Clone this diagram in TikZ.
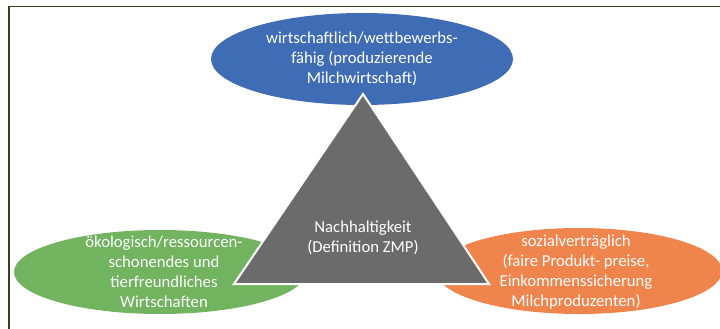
\documentclass[tikz,border=0pt]{standalone}
\usepackage{fontspec}
\setmainfont{Carlito}
\usepackage{tikz}
\usetikzlibrary{shapes,calc,positioning}
\definecolor{pillarblue}{HTML}{3F6DB5}
\definecolor{pillargreen}{HTML}{71B35E}
\definecolor{pillarorange}{HTML}{EF844C}
\definecolor{coregray}{HTML}{6B6B6B}
\definecolor{framecol}{HTML}{3B3A22}
\tikzset{
    pillar/.style = {ellipse, text=white, align=center, inner sep=0pt, minimum width=300pt, minimum height=90pt, font=\fontsize{16.7}{20}\selectfont},
    core/.style = {fill=coregray, draw=white, line width=2pt, line join=miter},
    coretext/.style = {text=white, align=center, font=\fontsize{16.7}{20}\selectfont},
}

\begin{document}
\begin{tikzpicture}[x=1pt, y=-1pt]
    \useasboundingbox (0,0) rectangle (720,329);
    \clip (0,0) rectangle (720,329);
    \draw [framecol, line width=1.5pt] (9,329) -- (9,6.5) -- (720,6.5);
    \node [pillar, fill=pillarblue, minimum width=302pt, minimum height=92pt] (oekonomie) at (362,59) {wirtschaftlich/wettbewerbs-\\f\"ahig (produzierende\\Milchwirtschaft)};
    \node [pillar, fill=pillargreen, minimum width=292pt, minimum height=84pt] (oekologie) at (160,272) {};
    \node [pillar, fill=pillarorange, minimum width=286pt, minimum height=86pt] (soziales) at (579,271) {};
    \node [pillar] (oekologietext) at (164,272) {\"okologisch/ressourcen-\\schonendes und\\tierfreundliches\\Wirtschaften};
    \node [pillar] (sozialestext) at (576,272) {sozialvertr\"aglich\\(faire Produkt- preise,\\Einkommenssicherung\\Milchproduzenten)};
    \coordinate (spitze) at (363,94);
    \coordinate (links) at (234,284);
    \coordinate (rechts) at (489,284);
    \draw [core] (spitze) -- (links) -- (rechts) -- cycle;
    \node [coretext] (kern) at (363,238) {Nachhaltigkeit\\(Definition ZMP)};
\end{tikzpicture}
\end{document}
